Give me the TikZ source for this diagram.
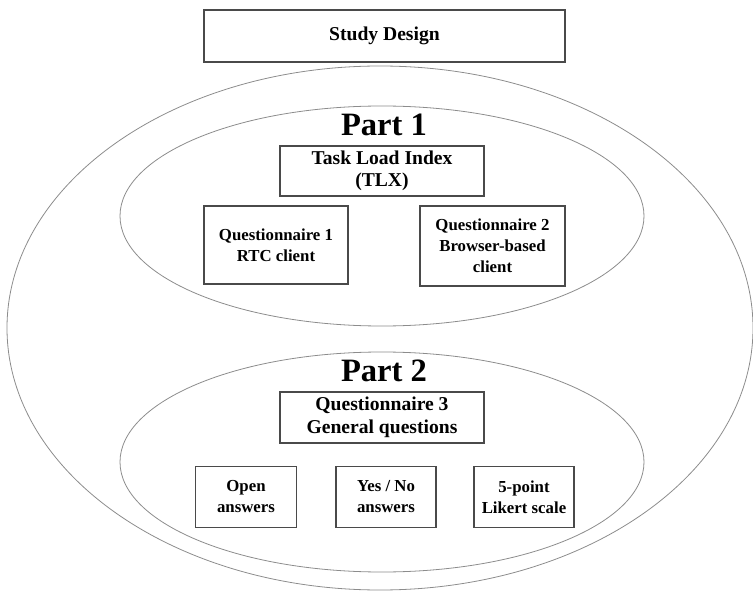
\documentclass[tikz,border=0pt]{standalone}
\usepackage{fontspec}
\setmainfont{Liberation Serif}
\usetikzlibrary{positioning}
\definecolor{ellc}{HTML}{8C8C8C}
\definecolor{boxc}{HTML}{4A4A4A}
\tikzset{
  ell/.style={draw=ellc, line width=0.8pt},
  bigbox/.style={draw=boxc, line width=1.2pt, rectangle, align=center, inner sep=0pt,
     font=\fontsize{19.6}{22.5}\selectfont\bfseries},
  smallbox/.style={draw=boxc, line width=1.2pt, rectangle, align=center, inner sep=0pt,
     font=\fontsize{16.8}{21}\selectfont\bfseries},
  parttitle/.style={inner sep=0pt, font=\fontsize{32.6}{36}\selectfont\bfseries}
}
\begin{document}
\begin{tikzpicture}[x=1pt,y=-1pt]
\useasboundingbox (0,0) rectangle (753,591);
% ellipses
\draw[ell] (380,328) ellipse [x radius=373, y radius=262];
\draw[ell] (382,216) ellipse [x radius=262, y radius=110];
\draw[ell] (382,462) ellipse [x radius=262, y radius=110];
% title
\node[bigbox, minimum width=361pt, minimum height=52pt, text height=14pt, text depth=5pt] (study) at (384.5,36) {Study Design};
% part 1
\node[parttitle] (p1) at (384,125) {Part 1};
\node[bigbox, minimum width=204pt, minimum height=50pt] (tlx) at (382,171) {Task Load Index\\(TLX)};
\node[smallbox, minimum width=144pt, minimum height=78pt] (q1) at (276,245) {Questionnaire 1\\RTC client};
\node[smallbox, minimum width=145pt, minimum height=80pt] (q2) at (492.5,246) {Questionnaire 2\\Browser-based\\client};
% part 2
\node[parttitle] (p2) at (384,371) {Part 2};
\node[bigbox, minimum width=204pt, minimum height=51pt] (q3) at (382,417.5) {Questionnaire 3\\General questions};
\node[smallbox, minimum width=101pt, minimum height=61pt] (open) at (246,497) {Open\\answers};
\node[smallbox, minimum width=100pt, minimum height=61pt] (yn) at (386,497) {Yes / No\\answers};
\node[smallbox, minimum width=100pt, minimum height=61pt] (lik) at (524,497) {5-point\\Likert scale};
\end{tikzpicture}
\end{document}
